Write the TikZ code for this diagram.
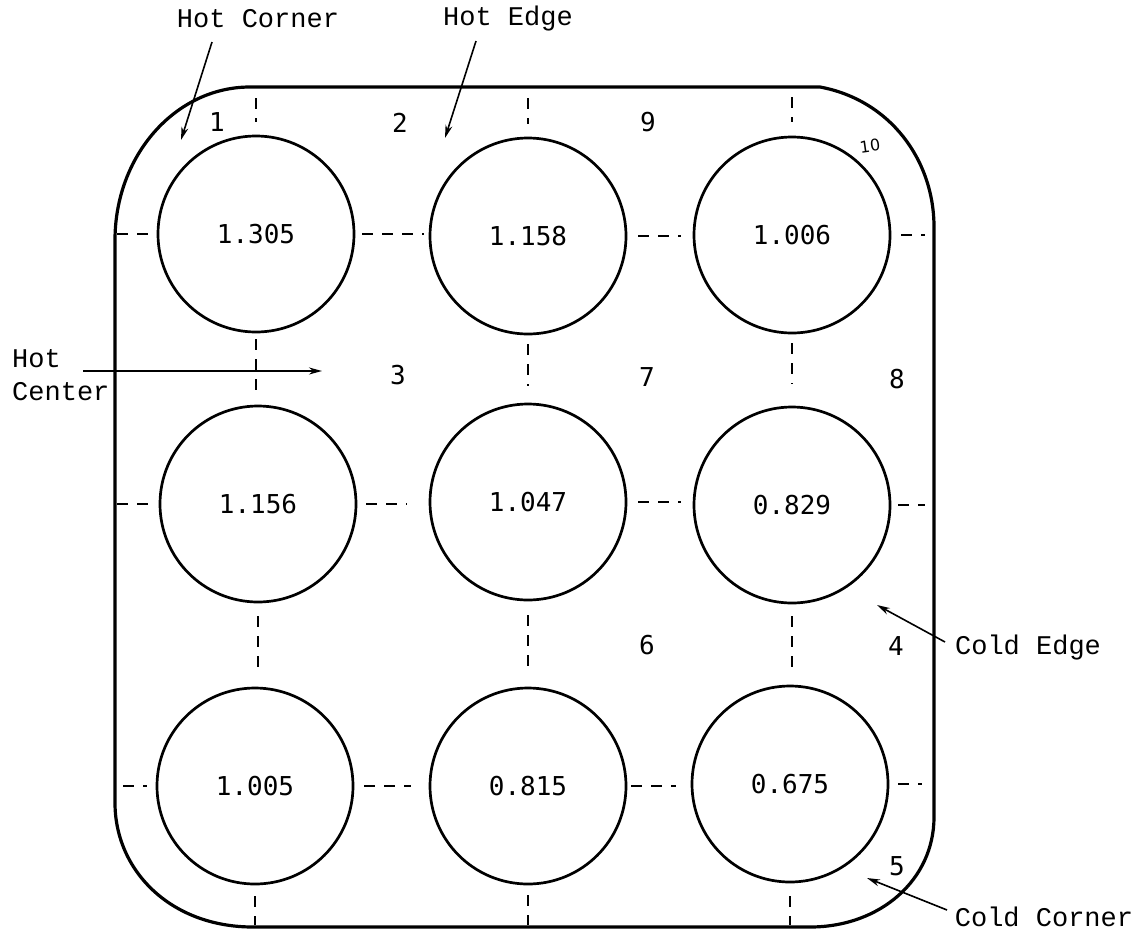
\documentclass[tikz,border=0pt]{standalone}
\usepackage{fontspec}
\setmainfont{Liberation Serif}
\newfontfamily\lmono{Liberation Mono}
\newfontfamily\dmono{DejaVu Sans Mono}
\newfontfamily\dsans{DejaVu Sans}
\usetikzlibrary{arrows.meta,calc}
\begin{document}
\begin{tikzpicture}[x=1pt,y=-1pt,
  rod/.style={circle,draw,line width=2.7pt,minimum size=196pt,inner sep=0pt,
    font=\dmono\fontsize{26}{30}\selectfont},
  num/.style={font=\dmono\fontsize{26}{30}\selectfont,inner sep=0pt},
  lbl/.style={font=\lmono\fontsize{27}{33}\selectfont,inner sep=0pt},
  arr/.style={line width=1.6pt,-{Stealth[length=13pt,width=7pt]}},
  stub/.style={line width=1.9pt,dash pattern=on 11pt off 9pt},
  box/.style={line width=3.2pt,line join=round}]
\useasboundingbox (0,0) rectangle (1145,940);

% outer box
\draw[box] (250,87) -- (820,87) .. controls (890,100) and (934,160) .. (934,227)
  -- (934,817) .. controls (934,880) and (880,927) .. (810,927)
  -- (253,927) .. controls (170,927) and (115,870) .. (115,803)
  -- (115,240) .. controls (115,156) and (175,87) .. (250,87) -- cycle;

% rods
\node[rod] (c11) at (256,234) {1.305};
\node[rod] (c12) at (528,236) {1.158};
\node[rod] (c13) at (792,235) {1.006};
\node[rod] (c21) at (258,504) {1.156};
\node[rod] (c22) at (528,502) {1.047};
\node[rod] (c23) at (792,505) {0.829};
\node[rod] (c31) at (255,786) {1.005};
\node[rod] (c32) at (528,786) {0.815};
\node[rod] (c33) at (790,784) {0.675};

% box points for the stubs
\coordinate (bL1) at (115,234);
\coordinate (bL2) at (115,504);
\coordinate (bL3) at (115,786);
\coordinate (bR1) at (934,235);
\coordinate (bR2) at (934,505);
\coordinate (bR3) at (934,784);
\coordinate (bT1) at (256,87);
\coordinate (bT2) at (528,87);
\coordinate (bT3) at (792,87);
\coordinate (bB1) at (255,927);
\coordinate (bB2) at (528,927);
\coordinate (bB3) at (790,927);

% horizontal stubs
\draw[stub,shorten <=2pt,shorten >=5pt] (bL1) -- (c11.west);
\draw[stub,shorten <=7pt,shorten >=5pt] (c11.east) -- (c11.east -| c12.west);
\draw[stub,shorten <=11pt,shorten >=12pt] (c12.east) -- (c12.east -| c13.west);
\draw[stub,shorten <=10pt,shorten >=9pt] (c13.east) -- (bR1);
\draw[stub,shorten <=2pt,shorten >=10pt] (bL2) -- (c21.west);
\draw[stub,shorten <=9pt,shorten >=22pt] (c21.east) -- (c21.east -| c22.west);
\draw[stub,shorten <=11pt,shorten >=12pt] (c22.east) -- (c22.east -| c23.west);
\draw[stub,shorten <=7pt,shorten >=9pt] (c23.east) -- (bR2);
\draw[stub,shorten <=8pt,shorten >=9pt] (bL3) -- (c31.west);
\draw[stub,shorten <=10pt,shorten >=18pt] (c31.east) -- (c31.east -| c32.west);
\draw[stub,shorten <=4pt,shorten >=15pt] (c32.east) -- (c32.east -| c33.west);
\draw[stub,shorten <=9pt,shorten >=12pt] (c33.east) -- (bR3);

% vertical stubs
\draw[stub,shorten <=11pt,shorten >=13pt] (bT1) -- (c11.north);
\draw[stub,shorten <=6pt,shorten >=11pt] (c11.south) -- (c11.south |- c21.north);
\draw[stub,shorten <=13pt,shorten >=15pt] (c21.south) -- (c21.south |- c31.north);
\draw[stub,shorten <=11pt,shorten >=2pt] (c31.south) -- (bB1);
\draw[stub,shorten <=11pt,shorten >=13pt] (bT2) -- (c12.north);
\draw[stub,shorten <=9pt,shorten >=17pt] (c12.south) -- (c22.north);
\draw[stub,shorten <=14pt,shorten >=19pt] (c22.south) -- (c32.north);
\draw[stub,shorten <=10pt,shorten >=2pt] (c32.south) -- (bB2);
\draw[stub,shorten <=10pt,shorten >=14pt] (bT3) -- (c13.north);
\draw[stub,shorten <=9pt,shorten >=22pt] (c13.south) -- (c13.south |- c23.north);
\draw[stub,shorten <=12pt,shorten >=17pt] (c23.south) -- (c23.south |- c33.north);
\draw[stub,shorten <=13pt,shorten >=2pt] (c33.south) -- (bB3);

% region numbers
\node[num] (n1) at (217,122) {1};
\node[num] (n2) at (400,123) {2};
\node[num] (n9) at (648,122) {9};
\node[font=\dsans\fontsize{16}{18}\selectfont,inner sep=0pt,rotate=8] (n10) at (870,146) {10};
\node[num] (n3) at (398,375) {3};
\node[num] (n7) at (647,377) {7};
\node[num] (n8) at (897,379) {8};
\node[num] (n6) at (647,645) {6};
\node[num] (n4) at (896,646) {4};
\node[num] (n5) at (897,866) {5};

% labels
\node[lbl] (hc) at (258,19) {Hot Corner};
\node[lbl] (he) at (508,19) {Hot Edge};
\node[lbl,anchor=west,align=left] (hctr) at (12,375) {Hot\\Center};
\node[lbl] (ce) at (1028,648) {Cold Edge};
\node[lbl] (cc) at (1044,917) {Cold Corner};

% arrows
\coordinate (hcS) at (212,42);
\coordinate (hcT) at (181,140);
\coordinate (heS) at (476,41);
\coordinate (heT) at (445,138);
\coordinate (hzS) at (83,371);
\coordinate (hzT) at (322,371);
\coordinate (ceS) at (945,642);
\coordinate (ceT) at (877,605);
\coordinate (ccS) at (947,910);
\coordinate (ccT) at (867,878);
\draw[arr] (hcS) -- (hcT);
\draw[arr] (heS) -- (heT);
\draw[arr] (hzS) -- (hzT);
\draw[arr] (ceS) -- (ceT);
\draw[arr] (ccS) -- (ccT);
\end{tikzpicture}
\end{document}
